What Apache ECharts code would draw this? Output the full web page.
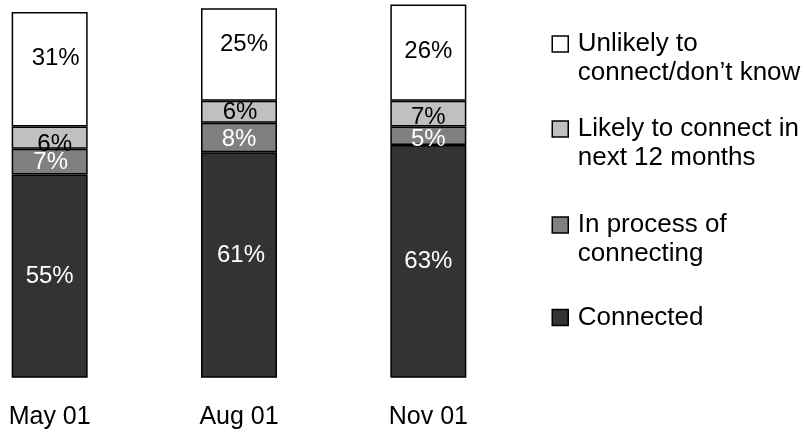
<!DOCTYPE html>
<html>
<head>
<meta charset="utf-8">
<script src="https://cdn.jsdelivr.net/npm/echarts@6/dist/echarts.min.js"></script>
<style>
  html, body { margin: 0; padding: 0; background: #fff; }
  #chart { width: 805px; height: 434px; }
</style>
</head>
<body>
<div id="chart"></div>
<script>
// Survey waves
const categories = ['May 01', 'Aug 01', 'Nov 01'];

// Share of respondents (%) per status, one value per wave
const connected = [55, 61, 63];
const inProcess = [7, 8, 5];
const likely = [6, 6, 7];
const unlikely = [31, 25, 26];

const seriesNames = [
  'Connected',
  'In process of\nconnecting',
  'Likely to connect in\nnext 12 months',
  'Unlikely to\nconnect/don\u2019t know'
];

// Styling for each stacked segment, bottom to top
const fills = ['#333333', '#808080', '#c0c0c0', '#ffffff'];
const labelColors = ['#ffffff', '#ffffff', '#000000', '#000000'];
// Per-point nudges of the value labels [dx, dy]
const labelShifts = [
  [[0, 0], [2, -10], [0, 0]],
  [[1, 1], [0, 2], [0, 4]],
  [[5, 7], [1, 1], [0, 4]],
  [[6, -11], [5, -10], [0, -1]]
];
// Vertical centre of each legend swatch
const legendCenters = [317.5, 225, 129, 44];

const FONT = '"Liberation Sans", Arial, sans-serif';
const values = [connected, inProcess, likely, unlikely];

const series = values.map((vals, s) => ({
  name: seriesNames[s],
  type: 'bar',
  stack: 'total',
  barWidth: 76,
  clip: false,
  itemStyle: { color: fills[s], borderColor: '#000', borderWidth: 1.5 },
  label: {
    show: true,
    position: 'inside',
    formatter: '{c}%',
    color: labelColors[s],
    fontFamily: FONT,
    fontSize: 24
  },
  data: vals.map((v, i) => ({ value: v, label: { offset: labelShifts[s][i] } }))
}));

// One legend block per status so each swatch sits beside the first line of its text
const LH = 29;
const legends = seriesNames.map((name, s) => {
  const twoLine = name.indexOf('\n') >= 0;
  return {
    left: 551.5,
    top: legendCenters[s] - (twoLine ? LH * 1.5 : LH / 2),
    orient: 'vertical',
    padding: 0,
    itemWidth: 16,
    itemHeight: 16,
    icon: 'rect',
    selectedMode: false,
    itemStyle: { borderColor: '#000', borderWidth: 1.5 },
    // a leading blank line centres the first text line on the swatch
    formatter: n => (twoLine ? '\n' + n : n),
    textStyle: {
      fontFamily: FONT,
      fontSize: 26,
      color: '#000',
      lineHeight: LH,
      padding: [0, 0, 0, 4.5]
    },
    data: [name]
  };
});

const chart = echarts.init(document.getElementById('chart'), null, { renderer: 'canvas' });
chart.setOption({
  animation: false,
  backgroundColor: '#ffffff',
  grid: {
    left: -45,
    width: 568,
    top: 0.9,
    bottom: 56.3,
    containLabel: false,
    outerBoundsMode: 'none'
  },
  legend: legends,
  xAxis: {
    type: 'category',
    data: categories,
    axisLine: { show: false },
    axisTick: { show: false },
    axisLabel: {
      margin: 27,
      color: '#000',
      fontFamily: FONT,
      fontSize: 25
    }
  },
  yAxis: {
    type: 'value',
    min: 0,
    max: 102,
    show: false
  },
  series: series
});
</script>
</body>
</html>
